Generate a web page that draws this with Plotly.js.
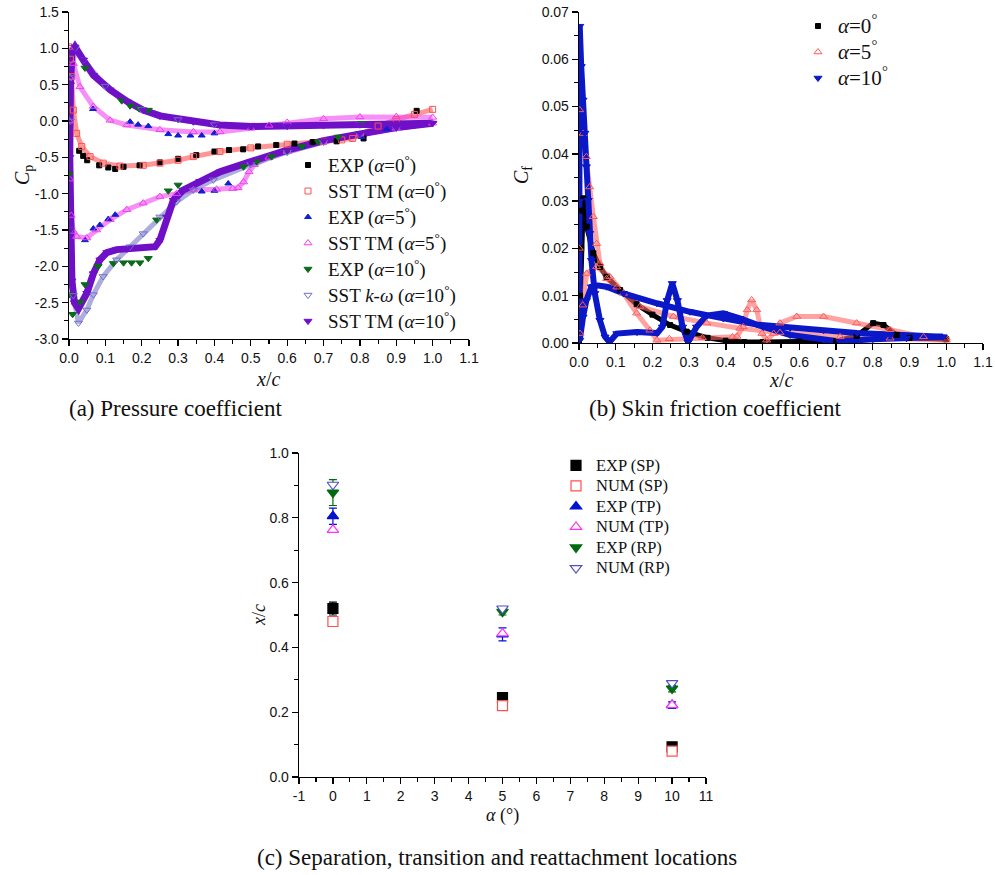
<!DOCTYPE html>
<html><head><meta charset="utf-8">
<script src="https://cdn.plot.ly/plotly-3.0.1.min.js"></script>
<style>html,body{margin:0;padding:0;background:#fff}#chart{width:995px;height:875px}</style>
</head><body><div id="chart"></div>
<script>
// ---------- Panel (a): pressure coefficient ----------
const cpExp0X = [0.028, 0.039, 0.05, 0.083, 0.108, 0.127, 0.15, 0.194, 0.25, 0.3, 0.35, 0.40, 0.44, 0.479, 0.52, 0.57, 0.62, 0.67, 0.736, 0.81, 0.956];
const cpExp0Y = [-0.41, -0.48, -0.54, -0.61, -0.64, -0.66, -0.63, -0.61, -0.57, -0.52, -0.47, -0.42, -0.40, -0.39, -0.35, -0.33, -0.31, -0.29, -0.28, -0.24, 0.14];
const cpTm0X = [0.0, 0.004, 0.007, 0.012, 0.021, 0.035, 0.058, 0.094, 0.14, 0.204, 0.25, 0.30, 0.342, 0.415, 0.5, 0.6, 0.7, 0.75, 0.78, 0.80, 0.85, 0.9, 0.95, 1.0];
const cpTm0Y = [1.02, 0.85, 0.61, 0.15, -0.17, -0.35, -0.49, -0.58, -0.62, -0.61, -0.58, -0.54, -0.49, -0.42, -0.37, -0.32, -0.28, -0.26, -0.24, -0.19, -0.07, 0.02, 0.09, 0.16];
const cpExp5X = [0.044, 0.067, 0.085, 0.108, 0.127, 0.365, 0.40, 0.438, 0.64, 0.805, 0.874, 0.066, 0.168, 0.19, 0.218, 0.273, 0.30, 0.334, 0.365, 0.40];
const cpExp5Y = [-1.64, -1.48, -1.43, -1.35, -1.29, -0.97, -0.96, -0.86, -0.35, -0.22, -0.11, 0.165, -0.01, -0.05, -0.07, -0.18, -0.20, -0.20, -0.20, -0.17];
const cpTm5X = [1.0, 0.9, 0.8, 0.7, 0.6, 0.55, 0.5, 0.415, 0.342, 0.25, 0.159, 0.113, 0.067, 0.03, 0.012, 0.003, 0.002, 0.001, 0.002, 0.006, 0.012, 0.021, 0.049, 0.076, 0.113, 0.159, 0.204, 0.25, 0.296, 0.342, 0.406, 0.45, 0.465, 0.48, 0.495, 0.51, 0.55, 0.6, 0.7, 0.8, 0.9, 1.0];
const cpTm5Y = [0.05, 0.06, 0.055, 0.03, -0.02, -0.06, -0.10, -0.15, -0.15, -0.12, -0.055, 0.01, 0.20, 0.47, 0.79, 1.0, 0.6, 0.0, -0.8, -1.3, -1.52, -1.59, -1.61, -1.5, -1.36, -1.22, -1.13, -1.04, -1.0, -0.95, -0.94, -0.93, -0.92, -0.84, -0.70, -0.60, -0.50, -0.42, -0.29, -0.18, -0.10, -0.03];
const cpExp10X = [0.0, 0.01, 0.03, 0.044, 0.08, 0.122, 0.15, 0.172, 0.195, 0.218, 0.241, 0.273, 0.30, 0.48, 0.516, 0.557, 0.60, 0.64, 0.686, 0.74, 0.805, 0.0, 0.044, 0.145, 0.168, 0.193, 0.218];
const cpExp10Y = [-2.39, -2.66, -2.49, -2.25, -2.0, -1.96, -1.95, -1.95, -1.95, -1.89, -1.36, -0.96, -0.88, -0.63, -0.56, -0.49, -0.41, -0.35, -0.285, -0.22, -0.03, -0.73, 0.73, 0.28, 0.21, 0.17, 0.15];
const cpKw10X = [1.0, 0.8, 0.6, 0.4, 0.3, 0.2, 0.1, 0.04, 0.017, 0.006, 0.004, 0.005, 0.012, 0.026, 0.049, 0.067, 0.094, 0.131, 0.168, 0.204, 0.25, 0.296, 0.342, 0.397, 0.5, 0.6, 0.7, 0.8, 0.9, 1.0];
const cpKw10Y = [-0.03, -0.05, -0.07, -0.05, 0.02, 0.16, 0.48, 0.84, 1.0, 0.6, 0.0, -1.5, -2.4, -2.78, -2.6, -2.39, -2.14, -1.91, -1.73, -1.55, -1.32, -1.11, -0.95, -0.81, -0.60, -0.43, -0.29, -0.18, -0.10, -0.03];
const cpTm10X = [1.0, 0.9, 0.8, 0.7, 0.6, 0.5, 0.415, 0.342, 0.25, 0.204, 0.159, 0.113, 0.067, 0.039, 0.0165, 0.008, 0.004, 0.002, 0.003, 0.008, 0.015, 0.026, 0.049, 0.067, 0.085, 0.104, 0.131, 0.159, 0.204, 0.237, 0.25, 0.269, 0.287, 0.314, 0.36, 0.415, 0.5, 0.6, 0.7, 0.8, 0.9, 1.0];
const cpTm10Y = [-0.03, -0.04, -0.05, -0.06, -0.07, -0.075, -0.055, -0.01, 0.07, 0.15, 0.27, 0.43, 0.63, 0.84, 1.02, 0.95, 0.5, -0.5, -1.5, -2.2, -2.5, -2.58, -2.37, -2.1, -1.91, -1.81, -1.77, -1.76, -1.74, -1.73, -1.64, -1.32, -1.09, -0.95, -0.83, -0.70, -0.56, -0.40, -0.27, -0.17, -0.09, -0.03];

// ---------- Panel (b): skin friction coefficient ----------
const cf0X = [0.0, 0.003, 0.006, 0.009, 0.012, 0.021, 0.039, 0.057, 0.075, 0.112, 0.157, 0.2, 0.248, 0.293, 0.35, 0.4, 0.45, 0.5, 0.6, 0.7, 0.756, 0.801, 0.829, 0.865, 0.9, 1.0];
const cf0Y = [0.0, 0.01, 0.02, 0.028, 0.0306, 0.0246, 0.019, 0.0161, 0.014, 0.0112, 0.0082, 0.006, 0.0038, 0.0024, 0.0011, 0.0005, 0.0002, 0.0002, 0.0003, 0.0004, 0.0015, 0.0042, 0.0038, 0.0017, 0.0011, 0.0008];
const cf5X = [1.0, 0.938, 0.847, 0.756, 0.666, 0.593, 0.547, 0.53, 0.511, 0.498, 0.484, 0.47, 0.458, 0.447, 0.43, 0.418, 0.336, 0.246, 0.212, 0.193, 0.157, 0.121, 0.084, 0.048, 0.021, 0.01, 0.003, 0.001, 0.002, 0.011, 0.02, 0.029, 0.039, 0.048, 0.057, 0.075, 0.103, 0.166, 0.257, 0.348, 0.438, 0.547, 0.711, 0.847, 1.0];
const cf5Y = [0.001, 0.0013, 0.0028, 0.0042, 0.0056, 0.0056, 0.0042, 0.002, 0.0006, 0.002, 0.007, 0.0091, 0.007, 0.0034, 0.0014, 0.0013, 0.0011, 0.0009, 0.0006, 0.0027, 0.0063, 0.0105, 0.014, 0.0161, 0.0147, 0.008, 0.002, 0.02, 0.0493, 0.0443, 0.0394, 0.033, 0.0267, 0.021, 0.0168, 0.0136, 0.0118, 0.0077, 0.0056, 0.0042, 0.0031, 0.0022, 0.0013, 0.001, 0.0006];
const cf10X = [0.99, 0.847, 0.757, 0.666, 0.575, 0.484, 0.393, 0.302, 0.212, 0.121, 0.075, 0.048, 0.034, 0.02, 0.011, 0.002, 0.001, 0.002, 0.006, 0.011, 0.016, 0.02, 0.025, 0.029, 0.034, 0.043, 0.057, 0.071, 0.083, 0.103, 0.158, 0.213, 0.227, 0.24, 0.254, 0.268, 0.282, 0.297, 0.32, 0.348, 0.393, 0.438, 0.502, 0.575, 0.666, 0.71, 0.8, 0.892, 0.992];
const cf10Y = [0.0013, 0.0017, 0.0021, 0.0027, 0.0032, 0.0039, 0.0052, 0.0066, 0.0084, 0.0105, 0.0119, 0.0122, 0.0119, 0.009, 0.0055, 0.0006, 0.03, 0.067, 0.0585, 0.0514, 0.0444, 0.0373, 0.0302, 0.0232, 0.0175, 0.0105, 0.0048, 0.0013, 0.0002, 0.002, 0.0023, 0.0021, 0.0034, 0.009, 0.0126, 0.009, 0.0034, 0.0002, 0.0034, 0.0058, 0.0063, 0.0052, 0.0034, 0.0017, 0.0006, 0.0003, 0.0008, 0.001, 0.0013];

// ---------- Panel (c): locations ----------
const alphaDeg = [0, 5, 10];
const expSP = [0.52, 0.245, 0.093];   const expSPErr = [0.02, 0.015, 0.008];
const numSP = [0.48, 0.22, 0.08];
const expTP = [0.805, 0.44, 0.222];   const expTPErr = [0.025, 0.02, 0.01];
const numTP = [0.763, 0.443, 0.222];
const expRP = [0.878, 0.51, 0.273];   const expRPErr = [0.04, 0.01, 0.01];
const numRP = [0.902, 0.52, 0.29];

// ---------- tick labels ----------
const cpTickVals = [-3.0, -2.5, -2.0, -1.5, -1.0, -0.5, 0.0, 0.5, 1.0, 1.5];
const cpTickText = cpTickVals.map(v => v.toFixed(1));
const alphaTickVals = [-1, 0, 1, 2, 3, 4, 5, 6, 7, 8, 9, 10, 11];
const alphaTickText = alphaTickVals.map(v => String(v));

const W = 995, H = 875;
const PX = x => x / W, PY = y => 1 - y / H;
const SERIF = 'Liberation Serif, Times New Roman, serif';
const SANS = 'Liberation Sans, Arial, sans-serif';
const deg = '<sup>°</sup>';
const al = '<i>α</i>';
const big = (s, sz) => '<span style="font-size:' + sz + 'px">' + s + '</span>';

const traces = [];
function band(x, y, xa, ya, color, width) {
  traces.push({x: x, y: y, xaxis: xa, yaxis: ya, type: 'scatter', mode: 'lines', showlegend: false,
    hoverinfo: 'skip', line: {color: color, width: width}});
}
function pts(x, y, xa, ya, name, symbol, color, size, legend) {
  traces.push({x: x, y: y, xaxis: xa, yaxis: ya, type: 'scatter', mode: 'markers', name: name, legend: legend,
    marker: {symbol: symbol, color: color, size: size, line: {color: color, width: 1}}});
}
// panel a bands
band(cpTm0X, cpTm0Y, 'x', 'y', 'rgba(255,80,80,0.6)', 5);
band(cpTm5X, cpTm5Y, 'x', 'y', 'rgba(240,70,240,0.6)', 5);
band(cpKw10X, cpKw10Y, 'x', 'y', 'rgba(120,120,200,0.6)', 5);
band(cpTm10X, cpTm10Y, 'x', 'y', '#6f10c8', 7);
// panel a markers
const LA = 19;
pts(cpExp0X, cpExp0Y, 'x', 'y', big('EXP (' + al + '=0' + deg + ')', LA), 'square', '#000000', 5, 'legend');
pts(cpTm0X, cpTm0Y, 'x', 'y', big('SST TM (' + al + '=0' + deg + ')', LA), 'square-open', '#ff5050', 6, 'legend');
pts(cpExp5X, cpExp5Y, 'x', 'y', big('EXP (' + al + '=5' + deg + ')', LA), 'triangle-up', '#1020d0', 6, 'legend');
pts(cpTm5X, cpTm5Y, 'x', 'y', big('SST TM (' + al + '=5' + deg + ')', LA), 'triangle-up-open', '#f040f0', 7, 'legend');
pts(cpExp10X, cpExp10Y, 'x', 'y', big('EXP (' + al + '=10' + deg + ')', LA), 'triangle-down', '#0a6a1a', 7, 'legend');
pts(cpKw10X, cpKw10Y, 'x', 'y', big('SST <i>k</i>-<i>ω</i> (' + al + '=10' + deg + ')', LA), 'triangle-down-open', '#7070c8', 7, 'legend');
pts(cpTm10X, cpTm10Y, 'x', 'y', big('SST TM (' + al + '=10' + deg + ')', LA), 'triangle-down', '#6f10c8', 7, 'legend');
// panel b
const LB = 21;
band(cf0X, cf0Y, 'x2', 'y2', '#000000', 5);
band(cf5X, cf5Y, 'x2', 'y2', 'rgba(255,100,100,0.6)', 5);
band(cf10X, cf10Y, 'x2', 'y2', '#0a18c8', 6);
pts(cf0X, cf0Y, 'x2', 'y2', big(al + '=0' + deg, LB), 'square', '#000000', 5, 'legend2');
pts(cf5X, cf5Y, 'x2', 'y2', big(al + '=5' + deg, LB), 'triangle-up-open', '#ff5a5a', 7, 'legend2');
pts(cf10X, cf10Y, 'x2', 'y2', big(al + '=10' + deg, LB), 'triangle-down', '#0a18c8', 7, 'legend2');
// panel c
const LC = 16.5;
function cpt(y, err, name, symbol, color, fill) {
  const t = {x: alphaDeg, y: y, xaxis: 'x3', yaxis: 'y3', type: 'scatter', mode: 'markers', name: big(name, LC), legend: 'legend3',
    marker: {symbol: symbol, color: fill, size: 10, line: {color: color, width: 1.2}}};
  if (err) t.error_y = {type: 'data', array: err, visible: true, color: color, thickness: 1.2, width: 4};
  traces.push(t);
}
cpt(expSP, expSPErr, 'EXP (SP)', 'square', '#000000', '#000000');
cpt(numSP, null, 'NUM (SP)', 'square', '#ff5050', '#ffffff');
cpt(expTP, expTPErr, 'EXP (TP)', 'triangle-up', '#0010d0', '#0010d0');
cpt(numTP, null, 'NUM (TP)', 'triangle-up', '#ff30ff', '#ffffff');
cpt(expRP, expRPErr, 'EXP (RP)', 'triangle-down', '#006a10', '#006a10');
cpt(numRP, null, 'NUM (RP)', 'triangle-down', '#5050c0', '#ffffff');

const axBase = {showline: true, linecolor: '#000', linewidth: 1.3, ticks: 'outside', ticklen: 6, tickwidth: 1.3,
  tickcolor: '#000', showgrid: false, zeroline: false, tickfont: {family: SANS, size: 14, color: '#111'},
  minor: {ticks: 'outside', ticklen: 3.5, tickwidth: 1.1, tickcolor: '#000', showgrid: false}};
function ax(o) { const r = JSON.parse(JSON.stringify(axBase)); return Object.assign(r, o, {minor: Object.assign(r.minor, o.minor || {})}); }

const legBase = {xanchor: 'left', yanchor: 'top', bgcolor: 'rgba(0,0,0,0)', borderwidth: 0, itemclick: false};
const annFont = s => ({family: SERIF, size: s, color: '#111'});
function ann(text, x, y, size, angle) {
  return {text: text, x: PX(x), y: PY(y), xref: 'paper', yref: 'paper', xanchor: 'center', yanchor: 'middle',
    showarrow: false, textangle: angle || 0, font: annFont(size)};
}
const layout = {
  width: W, height: H, margin: {l: 0, r: 0, t: 0, b: 0}, paper_bgcolor: '#fff', plot_bgcolor: '#fff',
  showlegend: true,
  xaxis: ax({domain: [PX(69), PX(469)], range: [0, 1.1], dtick: 0.1, tick0: 0, tickformat: '.1f', anchor: 'y', minor: {dtick: 0.05}}),
  yaxis: ax({domain: [PY(339), PY(12)], range: [-3, 1.5], tickmode: 'array', tickvals: cpTickVals, ticktext: cpTickText, anchor: 'x', minor: {dtick: 0.25, tick0: 0}}),
  xaxis2: ax({domain: [PX(579), PX(983)], range: [0, 1.1], dtick: 0.1, tick0: 0, tickformat: '.1f', anchor: 'y2', minor: {dtick: 0.05}}),
  yaxis2: ax({domain: [PY(343), PY(12)], range: [0, 0.07], dtick: 0.01, tick0: 0, tickformat: '.2f', anchor: 'x2', minor: {dtick: 0.005}}),
  xaxis3: ax({domain: [PX(299), PX(706)], range: [-1, 11], tickmode: 'array', tickvals: alphaTickVals, ticktext: alphaTickText, anchor: 'y3', minor: {dtick: 0.5, tick0: 0}}),
  yaxis3: ax({domain: [PY(777), PY(453)], range: [0, 1], dtick: 0.2, tick0: 0, tickformat: '.1f', anchor: 'x3', minor: {dtick: 0.1}}),
  legend: Object.assign({}, legBase, {x: PX(288), y: PY(147), font: {family: SERIF, size: 17.7, color: '#111'}}),
  legend2: Object.assign({}, legBase, {x: PX(798), y: PY(8), font: {family: SERIF, size: 17.7, color: '#111'}}),
  legend3: Object.assign({}, legBase, {x: PX(556), y: PY(450), font: {family: SERIF, size: 13.5, color: '#111'}}),
  annotations: [
    ann('<i>x</i>/<i>c</i>', 268, 379, 20),
    ann('<i>C</i><sub>p</sub>', 24, 175, 20, -90),
    ann('<i>x</i>/<i>c</i>', 781, 380, 20),
    ann('<i>C</i><sub>f</sub>', 523, 175, 20, -90),
    ann('<i>x</i>/<i>c</i>', 259, 615, 18, -90),
    ann('<i>α</i> (°)', 502, 815, 18),
    ann('(a) Pressure coefficient', 175, 408, 23),
    ann('(b) Skin friction coefficient', 715, 408, 23),
    ann('(c) Separation, transition and reattachment locations', 497, 857, 23)
  ]
};
Plotly.newPlot('chart', traces, layout, {displayModeBar: false, staticPlot: true});
</script>
</body></html>
